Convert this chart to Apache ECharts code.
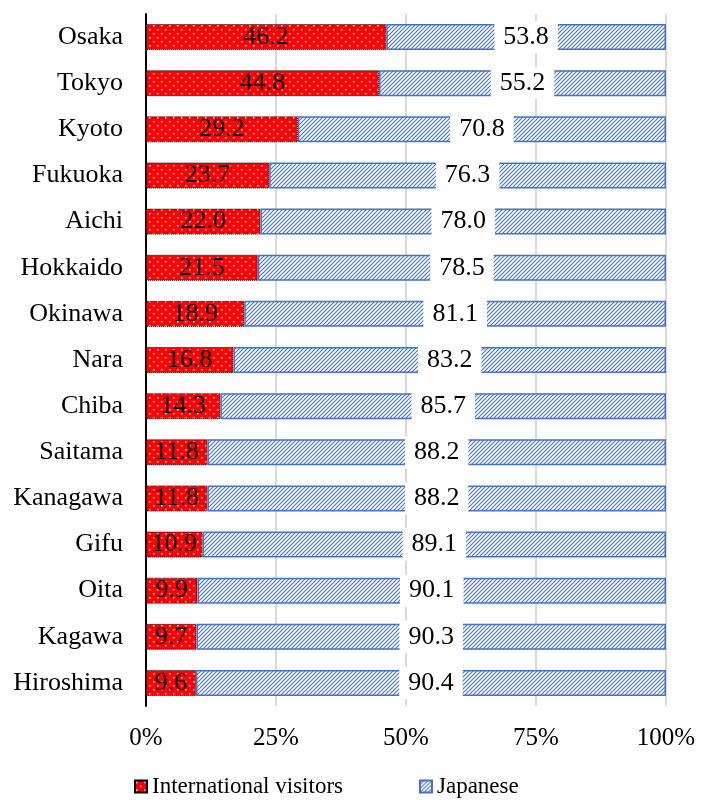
<!DOCTYPE html>
<html>
<head>
<meta charset="utf-8">
<script src="https://cdn.jsdelivr.net/npm/echarts@6/dist/echarts.min.js"></script>
<style>
  html, body { margin: 0; padding: 0; background: #fff; }
  #main { width: 708px; height: 807px; }
</style>
</head>
<body>
<div id="main"></div>
<script>
// 数据
const prefectures = ['Osaka', 'Tokyo', 'Kyoto', 'Fukuoka', 'Aichi', 'Hokkaido', 'Okinawa', 'Nara',
  'Chiba', 'Saitama', 'Kanagawa', 'Gifu', 'Oita', 'Kagawa', 'Hiroshima'];
const international = [46.2, 44.8, 29.2, 23.7, 22.0, 21.5, 18.9, 16.8, 14.3, 11.8, 11.8, 10.9, 9.9, 9.7, 9.6];
const japanese = [53.8, 55.2, 70.8, 76.3, 78.0, 78.5, 81.1, 83.2, 85.7, 88.2, 88.2, 89.1, 90.1, 90.3, 90.4];
const xTicks = [0, 25, 50, 75, 100];

const FONT = '"Liberation Serif", "Times New Roman", serif';

// 红底白点
function dotPattern() {
  let c = document.createElement('canvas');
  c.width = 8; c.height = 8;
  let ctx = c.getContext('2d');
  ctx.fillStyle = '#ff0000';
  ctx.fillRect(0, 0, 8, 8);
  ctx.fillStyle = '#ffffff';
  ctx.fillRect(1, 1, 1.5, 1.5);
  ctx.fillRect(5, 5, 1.5, 1.5);
  return c;
}

// 蓝色斜线
function hatchPattern() {
  let c = document.createElement('canvas');
  c.width = 4; c.height = 4;
  let ctx = c.getContext('2d');
  ctx.fillStyle = '#ffffff';
  ctx.fillRect(0, 0, 4, 4);
  ctx.strokeStyle = '#4472c4';
  ctx.lineWidth = 1.1;
  ctx.beginPath();
  ctx.moveTo(-1, 5); ctx.lineTo(5, -1);
  ctx.moveTo(-1, 1); ctx.lineTo(1, -1);
  ctx.moveTo(3, 5); ctx.lineTo(5, 3);
  ctx.stroke();
  return c;
}

let myChart = echarts.init(document.getElementById('main'));

let option = {
  animation: false,
  textStyle: { fontFamily: FONT },
  grid: { left: 146, right: 42, top: 14, bottom: 101 },
  legend: {
    bottom: 4,
    left: 129,
    icon: 'rect',
    itemWidth: 12,
    itemHeight: 12,
    itemGap: 76,
    textStyle: { fontFamily: FONT, fontSize: 23, color: '#000' },
    data: ['International visitors', 'Japanese']
  },
  xAxis: {
    type: 'value',
    min: 0,
    max: 100,
    interval: 25,
    axisLine: { show: false },
    axisTick: { show: false },
    splitLine: { lineStyle: { color: '#d9d9d9', width: 2 } },
    axisLabel: {
      fontFamily: FONT, fontSize: 25, color: '#000', margin: 20,
      formatter: v => xTicks.includes(v) ? v + '%' : ''
    }
  },
  yAxis: {
    type: 'category',
    inverse: true,
    data: prefectures,
    axisLine: { lineStyle: { color: '#000', width: 2 } },
    axisTick: { show: false },
    axisLabel: { fontFamily: FONT, fontSize: 26, color: '#000', margin: 23 }
  },
  series: [
    {
      name: 'International visitors',
      type: 'bar',
      stack: 'all',
      barWidth: 26,
      data: international,
      itemStyle: {
        color: { image: dotPattern(), repeat: 'repeat' },
        borderColor: '#000',
        borderWidth: 1,
        borderType: 'dotted'
      },
      label: {
        show: true,
        position: 'inside',
        fontFamily: FONT,
        fontSize: 26,
        color: '#000',
        formatter: p => p.value.toFixed(1)
      }
    },
    {
      name: 'Japanese',
      type: 'bar',
      stack: 'all',
      barWidth: 26,
      data: japanese,
      itemStyle: {
        color: { image: hatchPattern(), repeat: 'repeat' },
        borderColor: '#4472c4',
        borderWidth: 1.5
      },
      label: {
        show: true,
        position: 'inside',
        fontFamily: FONT,
        fontSize: 26,
        color: '#000',
        backgroundColor: '#fff',
        padding: [3, 9],
        formatter: p => p.value.toFixed(1)
      }
    }
  ]
};

myChart.setOption(option);
</script>
</body>
</html>
